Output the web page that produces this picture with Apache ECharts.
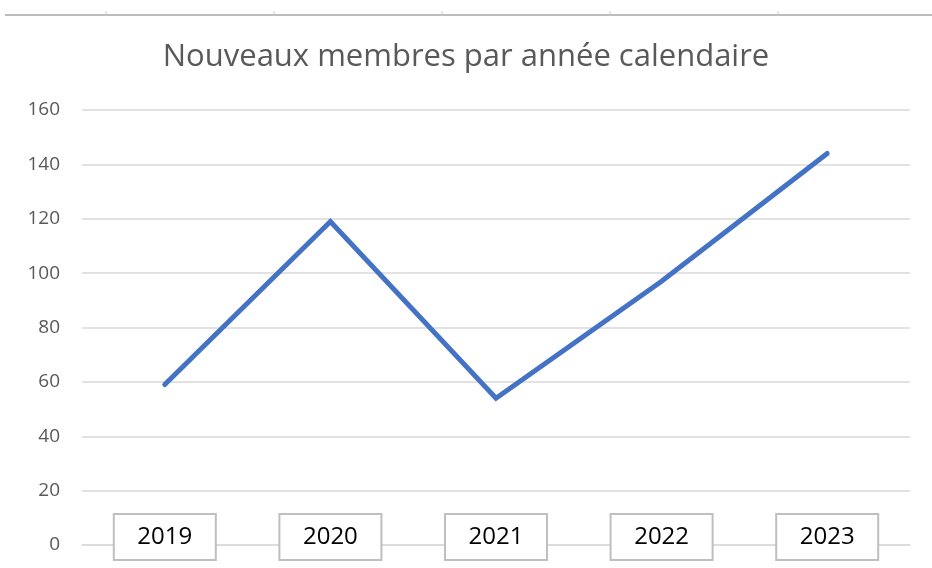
<!DOCTYPE html>
<html>
<head>
<meta charset="utf-8">
<script src="https://cdn.jsdelivr.net/npm/echarts@6/dist/echarts.min.js"></script>
<style>
    html, body { margin: 0; padding: 0; background: #fff; }
    #chart { width: 932px; height: 568px; }
</style>
</head>
<body>
<div id="chart"></div>
<script>
    // données
    var years = ['2019', '2020', '2021', '2022', '2023'];
    var membres = [59, 119, 54, 97, 144];
    var yTicks = [0, 20, 40, 60, 80, 100, 120, 140, 160];

    // trait du haut (reste d'un autre graphique)
    var topTicks = [106, 274, 442, 610, 778];
    var graphics = [{
        type: 'line',
        shape: { x1: 5, y1: 15, x2: 932, y2: 15 },
        style: { stroke: '#a6a6a6', lineWidth: 1.5 }
    }];
    for (var i = 0; i < topTicks.length; i++) {
        graphics.push({
            type: 'line',
            shape: { x1: topTicks[i], y1: 11, x2: topTicks[i], y2: 15 },
            style: { stroke: '#c8c8c8', lineWidth: 1 }
        });
    }

    var myChart = echarts.init(document.getElementById('chart'));
    var option = {
        animation: false,
        backgroundColor: '#fff',
        title: {
            text: 'Nouveaux membres par année calendaire',
            left: 'center',
            top: 37,
            textStyle: {
                fontFamily: 'Open Sans',
                fontSize: 31,
                fontWeight: 'normal',
                color: '#595959'
            }
        },
        graphic: graphics,
        grid: {
            left: 82,
            right: 22,
            top: 110,
            bottom: 23
        },
        xAxis: {
            type: 'category',
            data: years,
            boundaryGap: true,
            axisLine: { show: true, lineStyle: { color: '#d9d9d9', width: 1.5 } },
            axisTick: { show: false },
            axisLabel: {
                margin: -30,
                fontFamily: 'Open Sans',
                fontSize: 24,
                color: '#000',
                backgroundColor: '#fff',
                borderColor: '#bfbfbf',
                borderWidth: 2,
                width: 96,
                height: 28,
                lineHeight: 28,
                align: 'center',
                padding: [8, 2]
            }
        },
        yAxis: {
            type: 'value',
            min: yTicks[0],
            max: yTicks[yTicks.length - 1],
            interval: 20,
            axisLine: { show: false },
            axisTick: { show: false },
            axisLabel: {
                margin: 22,
                fontFamily: 'Open Sans',
                fontSize: 19,
                color: '#595959'
            },
            splitLine: { lineStyle: { color: '#d9d9d9', width: 1.5 } }
        },
        series: [{
            name: 'Nouveaux membres',
            type: 'line',
            data: membres,
            showSymbol: false,
            lineStyle: { color: '#4472c4', width: 5, cap: 'round', join: 'miter' }
        }]
    };
    myChart.setOption(option);
</script>
</body>
</html>
